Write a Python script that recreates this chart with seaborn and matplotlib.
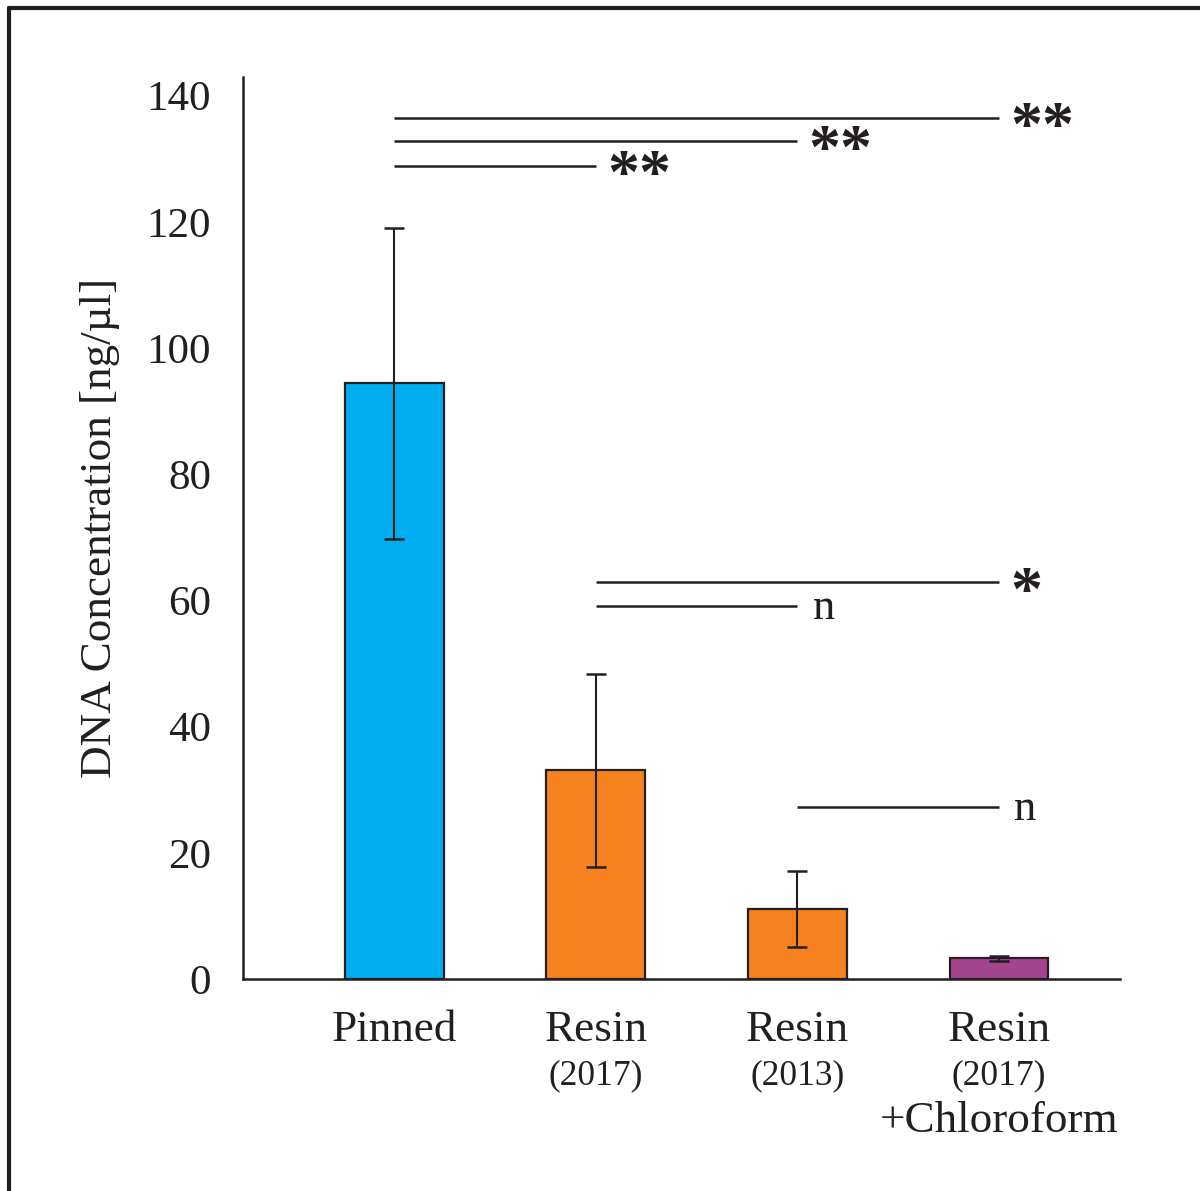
import matplotlib
matplotlib.use("Agg")
import matplotlib.pyplot as plt
import seaborn as sns
import pandas as pd
from matplotlib.lines import Line2D

# Data
groups = ["Pinned", "Resin", "Resin ", "Resin  "]
sub_labels = ["", "(2017)", "(2013)", "(2017)"]
extra_labels = ["", "", "", "+Chloroform"]
concentration = [94.4, 33.1, 11.1, 3.3]
sem = [24.7, 15.3, 6.0, 0.4]
bar_colors = ["#00AEEF", "#F5821F", "#F5821F", "#A3468F"]

# Significance brackets: (from bar, to bar, height, label)
sig_from = [0, 0, 0, 1, 1, 2]
sig_to = [3, 2, 1, 3, 2, 3]
sig_y = [136.5, 132.9, 128.9, 62.9, 59.1, 27.2]
sig_text = ["**", "**", "**", "*", "n", "n"]

ink = "#231F20"
serif = ["Liberation Serif", "DejaVu Serif"]

sns.set_theme(style="white")
plt.rcParams["font.family"] = serif

fig = plt.figure(figsize=(12, 11.91), dpi=100)
ax = fig.add_axes([0.2025, 0.178, 0.7308, 0.7575])

df = pd.DataFrame({"group": groups, "value": concentration})
sns.barplot(data=df, x="group", y="value", hue="group", palette=bar_colors,
            width=0.49, edgecolor=ink, linewidth=1.6, saturation=1,
            legend=False, errorbar=None, ax=ax)

ax.errorbar(range(len(groups)), concentration, yerr=sem, fmt="none",
            ecolor=ink, elinewidth=1.5, capsize=7, capthick=1.8, zorder=5)

ax.set_xlim(-0.75, 3.6)
ax.set_ylim(0, 143)
ax.set_yticks(range(0, 141, 20))
ax.tick_params(axis="y", length=0, pad=23, labelsize=31, labelcolor=ink)
ax.tick_params(axis="x", length=0, pad=22, labelsize=32.5, labelcolor=ink)
ax.set_xticks(range(len(groups)))
ax.set_xticklabels([g.strip() for g in groups])
ax.set_xlabel("")
ax.set_ylabel("DNA Concentration [ng/µl]", fontsize=32.5, color=ink, labelpad=19)

for s in ["top", "right"]:
    ax.spines[s].set_visible(False)
for s in ["left", "bottom"]:
    ax.spines[s].set_color(ink)
    ax.spines[s].set_linewidth(1.8)

# Secondary lines under the category names
trans = ax.get_xaxis_transform()
for i, (sub, extra) in enumerate(zip(sub_labels, extra_labels)):
    if sub:
        ax.text(i, -0.107, sub, transform=trans, ha="center", va="center",
                fontsize=25.5, color=ink)
    if extra:
        ax.text(i, -0.157, extra, transform=trans, ha="center", va="center",
                fontsize=32.5, color=ink)

# Significance lines with labels
for a, b, y, t in zip(sig_from, sig_to, sig_y, sig_text):
    ax.plot([a, b], [y, y], color=ink, lw=1.8, solid_capstyle="butt")
    if t == "n":
        ax.annotate(t, xy=(b, y), xytext=(11, -1), textcoords="offset points",
                    ha="left", va="center", fontsize=32, color=ink)
    else:
        ax.annotate(t, xy=(b, y), xytext=(8, -9), textcoords="offset points",
                    ha="left", va="center", fontsize=46, fontweight="bold",
                    color=ink)

# Frame lines along the top and left of the figure
fig.add_artist(Line2D([9 / 1200, 1.0], [1 - 8 / 1191, 1 - 8 / 1191],
                      transform=fig.transFigure, color=ink, lw=3))
fig.add_artist(Line2D([9 / 1200, 9 / 1200], [0.0, 1 - 8 / 1191],
                      transform=fig.transFigure, color=ink, lw=3))

fig.savefig("out.png", dpi=100, facecolor="white")
